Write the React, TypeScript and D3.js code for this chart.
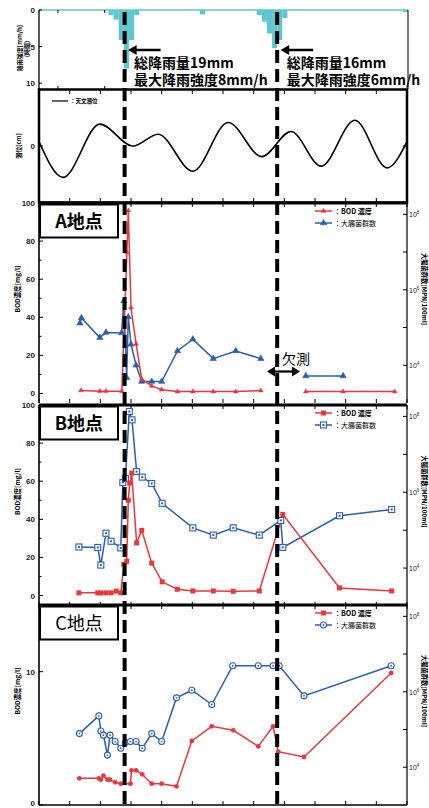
import React from 'react';
import * as d3 from 'd3';

// ---------- data ----------
const xTicks = [0, 6, 12, 18, 24, 30, 36, 42, 48, 54, 60, 66, 72];
const rainTickHours = [3.7, 12.85];

const rainHour = [13.6, 14.6, 15.6, 16.6, 17.6, 18.6, 31.5, 42.6, 43.6, 44.6, 45.6, 46.6, 47.6, 71.2];
const rainMm = [0.7, 1.3, 4.1, 8.0, 4.1, 0.7, 0.6, 0.7, 1.6, 3.2, 5.2, 4.1, 1.1, 0.3];
const rainTicks = [0, 5, 10];

const tideHour = [0, 4.7, 11.9, 18.4, 23.3, 30.1, 37.0, 43.6, 49.3, 55.2, 61.8, 68.1, 72];
const tideCm = [8, -56, 39, 0, 21, -45, 42, -19, 26, -36, 46, -39, 8];

const eventHours = [16.75, 46.6];
const eventTotals = ['総降雨量19mm', '総降雨量16mm'];
const eventMax = ['最大降雨強度8mm/h', '最大降雨強度6mm/h'];

const aBodHour = [8.2, 11.9, 13.1, 16.2, 17.2, 17.47, 18.0, 19.0, 20.1, 22.05, 24.0, 27.1, 30.1, 34.1, 38.5, 43.4, 48, 52.2, 59.5, 69.6];
const aBod = [1.6, 1.2, 1.2, 1.2, 74, 96, 45, 26, 7.5, 4, 2, 1, 1, 1, 1, 1.5, null, 1, 1, 1];
const aColiHour = [8.0, 8.3, 11.9, 13.1, 16.15, 16.6, 17.15, 17.47, 18.0, 19.0, 20.1, 22.05, 24.0, 27.1, 30.1, 34.1, 38.5, 43.4, 48, 52.2, 59.5];
const aColi = [1.3e5, 1.8e5, 5.4e4, 7.4e4, 7.2e4, 5.1e5, 4.7e3, 1.9e5, 3.6e4, 1.0e4, 3.7e3, 3.7e3, 3.7e3, 2.4e4, 4.9e4, 1.5e4, 2.4e4, 1.5e4, null, 5.2e3, 5.2e3];

const bBodHour = [7.8, 11.5, 12.1, 13.1, 14.1, 15.1, 16.0, 16.6, 17.16, 17.47, 17.75, 18.14, 19.1, 20.1, 22.05, 24.1, 27.06, 30.1, 34.1, 38.0, 43.1, 47.7, 58.8, 69.0];
const bBod = [1.4, 1.4, 1.4, 1.4, 1.4, 2.3, 1.4, 16.4, 18, 50, 59, 64.3, 27.6, 34.2, 17, 7.2, 3.3, 2.4, 2.4, 2.2, 2.4, 42.6, 4, 2.4];
const bColiHour = [7.8, 11.5, 12.1, 13.1, 14.1, 16.0, 16.4, 16.9, 17.67, 18.2, 19.1, 20.2, 22.05, 24.1, 30.1, 34.1, 38.0, 43.1, 47.3, 47.7, 58.8, 69.0];
const bColi = [3.6e4, 3.5e4, 1.2e4, 8.3e4, 5.1e4, 3.4e4, 1.8e6, 2.3e6, 1.35e8, 8.1e7, 3.5e6, 2.5e6, 1.7e6, 5.1e5, 1.15e5, 7.4e4, 1.15e5, 7.4e4, 1.8e5, 3.5e4, 2.4e5, 3.5e5];

const cBodHour = [7.9, 11.7, 12.1, 12.6, 13.4, 13.9, 14.9, 16.0, 17.9, 18.1, 19.0, 20.2, 22.05, 24.0, 26.9, 29.9, 33.8, 38.0, 42.9, 45.8, 46.8, 51.85, 68.9];
const cBod = [2.0, 2.0, 1.9, 2.2, 1.9, 1.9, 1.7, 1.6, 1.6, 2.6, 2.6, 2.3, 1.6, 1.6, 1.4, 4.8, 5.9, 5.6, 4.4, 5.9, 4.0, 3.6, 9.9];
const cColiHour = [7.9, 11.7, 12.1, 12.6, 13.4, 13.9, 14.9, 16.0, 16.9, 17.9, 19.0, 20.2, 22.05, 24.0, 26.9, 29.9, 33.8, 37.9, 42.9, 45.8, 47.0, 51.85, 68.9];
const cColi = [7.8e4, 2.3e5, 9.1e4, 7.1e4, 2.1e4, 7.1e4, 4.8e4, 3.2e4, 4.5e4, 4.8e4, 4.8e4, 3.2e4, 7.8e4, 4.8e4, 6.9e5, 1.1e6, 4.6e5, 4.9e6, 4.9e6, 4.9e6, 4.9e6, 7.8e5, 4.9e6];

const bodTicksAB = [0, 20, 40, 60, 80, 100];
const bodMinorAB = [10, 30, 50, 70, 90];
const bodTicksC = [0, 10];
const coliDecades = [1e4, 1e5, 1e6, 1e7, 1e8];
const coliLabelExp = [4, 6, 8];

const RED = '#e8383d';
const BLUE = '#2d5ea9';
const CYAN = '#5fc7cf';
const CJK = '"Noto Sans CJK JP", "Noto Sans", sans-serif';
const NUM = '"Liberation Sans", Arial, sans-serif';

const X0 = 39, X1 = 407;
const x = d3.scaleLinear().domain([0, 72]).range([X0, X1]);

type MarkerKind = 'tri' | 'sq' | 'circ';

function Marker({ kind, color, cx, cy, main }: { kind: MarkerKind; color: string; cx: number; cy: number; main: boolean }) {
  if (kind === 'tri') {
    const p = d3.symbol(d3.symbolTriangle, main ? 9 : 17)();
    return <path d={p!} transform={`translate(${cx},${cy})`} fill={color} stroke={color} strokeWidth={0.6} />;
  }
  if (kind === 'sq') {
    if (main) return <rect x={cx - 2.5} y={cy - 2.5} width={5} height={5} fill={color} />;
    return (
      <g>
        <rect x={cx - 3} y={cy - 3} width={6} height={6} fill="#fff" stroke={color} strokeWidth={1.1} />
        <rect x={cx - 1} y={cy - 1} width={2} height={2} fill={color} />
      </g>
    );
  }
  if (main) return <circle cx={cx} cy={cy} r={2.4} fill={color} />;
  return (
    <g>
      <circle cx={cx} cy={cy} r={3} fill="#fff" stroke={color} strokeWidth={1.1} />
      <circle cx={cx} cy={cy} r={0.9} fill={color} />
    </g>
  );
}

type PanelProps = {
  top: number; bottom: number; bodMin: number; bodMax: number;
  bodTicks: number[]; bodMinor: number[]; label: string; labelBold: boolean;
  bodH: number[]; bodV: (number | null)[]; coliH: number[]; coliV: (number | null)[];
  kind: MarkerKind; legendRedKind: MarkerKind; children?: React.ReactNode;
};

function Panel(p: PanelProps) {
  const yL = d3.scaleLinear().domain([p.bodMin, p.bodMax]).range([p.bottom, p.top]);
  const yR = d3.scaleLog().domain([1e3, Math.pow(10, 8.3)]).range([p.bottom, p.top]);
  const bodPts = p.bodH.map((h, i) => [h, p.bodV[i]] as [number, number | null]);
  const coliPts = p.coliH.map((h, i) => [h, p.coliV[i]] as [number, number | null]);
  const lineL = d3.line<[number, number | null]>().defined(d => d[1] != null).x(d => x(d[0])).y(d => yL(d[1] as number));
  const lineR = d3.line<[number, number | null]>().defined(d => d[1] != null).x(d => x(d[0])).y(d => yR(d[1] as number));
  const mid = (p.top + p.bottom) / 2 - 14;
  return (
    <g>
      {/* frame */}
      <line x1={X0} x2={X0} y1={p.top} y2={p.bottom} stroke="#000" strokeWidth={1.6} />
      <line x1={X1} x2={X1} y1={p.top} y2={p.bottom} stroke="#000" strokeWidth={1.2} />
      <line x1={X0} x2={X1} y1={p.top} y2={p.top} stroke="#000" strokeWidth={3} />
      {/* x ticks */}
      {xTicks.map(t => (
        <g key={t}>
          <line x1={x(t)} x2={x(t)} y1={p.top} y2={p.top + 4} stroke="#000" strokeWidth={1} />
          <line x1={x(t)} x2={x(t)} y1={p.bottom} y2={p.bottom - 4} stroke="#000" strokeWidth={1} />
        </g>
      ))}
      {/* left axis */}
      {p.bodTicks.map(t => (
        <g key={t}>
          <line x1={X0} x2={X0 + 4} y1={yL(t)} y2={yL(t)} stroke="#000" strokeWidth={1} />
          <text x={X0 - 4} y={Math.min(yL(t) + 3, 806)} textAnchor="end" fontSize={8} fontWeight="bold" fontFamily={NUM} fill="#222">{t}</text>
        </g>
      ))}
      {p.bodMinor.map(t => (
        <line key={t} x1={X0} x2={X0 + 2.5} y1={yL(t)} y2={yL(t)} stroke="#000" strokeWidth={1} />
      ))}
      <text transform={`translate(20,${mid}) rotate(-90)`} textAnchor="middle" fontSize={6.5} fontWeight="bold" fontFamily={CJK}>BOD濃度[mg/l]</text>
      {/* right axis */}
      {coliDecades.map(t => (
        <line key={t} x1={X1} x2={X1 - 4} y1={yR(t)} y2={yR(t)} stroke="#000" strokeWidth={1} />
      ))}
      {coliLabelExp.map(e => (
        <text key={e} x={X1 + 2} y={yR(Math.pow(10, e)) + 3} fontSize={7} fontFamily={NUM} fill="#222">10<tspan dy={-3} fontSize={4.5}>{e}</tspan></text>
      ))}
      <text transform={`translate(422,${mid}) rotate(90)`} textAnchor="middle" fontSize={6.3} fontWeight="bold" fontFamily={CJK}>大腸菌群数[MPN/100ml]</text>
      {/* series */}
      <path d={lineR(coliPts)!} fill="none" stroke={BLUE} strokeWidth={1.5} />
      <path d={lineL(bodPts)!} fill="none" stroke={RED} strokeWidth={1.5} />
      {coliPts.filter(d => d[1] != null).map((d, i) => (
        <Marker key={'c' + i} kind={p.kind} color={BLUE} cx={x(d[0])} cy={yR(d[1] as number)} main={false} />
      ))}
      {bodPts.filter(d => d[1] != null).map((d, i) => (
        <Marker key={'b' + i} kind={p.kind} color={RED} cx={x(d[0])} cy={yL(d[1] as number)} main={true} />
      ))}
      {/* label box */}
      <rect x={X0 + 1} y={p.top + 1.5} width={78} height={33} fill="#fff" stroke="#000" strokeWidth={2} />
      <text x={X0 + 40} y={p.top + 25} textAnchor="middle" fontSize={18} fontWeight={p.labelBold ? 'bold' : 'normal'} fontFamily={CJK}>{p.label}</text>
      {/* legend */}
      <line x1={315} x2={332} y1={p.top + 8} y2={p.top + 8} stroke={RED} strokeWidth={1.5} />
      <Marker kind={p.legendRedKind} color={RED} cx={323.5} cy={p.top + 8} main={true} />
      <text x={334} y={p.top + 10.5} fontSize={7} fontWeight="bold" fontFamily={CJK}>：BOD 濃度</text>
      <line x1={315} x2={332} y1={p.top + 20} y2={p.top + 20} stroke={BLUE} strokeWidth={1.5} />
      <Marker kind={p.kind} color={BLUE} cx={323.5} cy={p.top + 20} main={false} />
      <text x={334} y={p.top + 22.5} fontSize={7} fontFamily={CJK}>：大腸菌群数</text>
      {p.children}
    </g>
  );
}

export default function App() {
  const rainY = d3.scaleLinear().domain([0, 10.8]).range([10, 89]);
  const tideY = d3.scaleLinear().domain([-100, 100]).range([202, 90]);
  const tidePts = tideHour.map((h, i) => [h, tideCm[i]] as [number, number]);
  const tideLine = d3.line<[number, number]>().x(d => x(d[0])).y(d => tideY(d[1])).curve(d3.curveMonotoneX);

  return (
    <svg width={429} height={808} style={{ position: 'absolute', left: 0, top: 0, background: '#fff' }}>
      <rect width={429} height={808} fill="#fff" />
      {/* ---------- rainfall ---------- */}
      <g>
        <line x1={X0} x2={X1 + 1} y1={10} y2={10} stroke={CYAN} strokeWidth={1.5} />
        {rainHour.map((h, i) => (
          <rect key={i} x={x(h)} y={rainY(0)} width={Math.min(x(h + 1), X1 + 1) - x(h)} height={rainY(rainMm[i]) - rainY(0)} fill={CYAN} />
        ))}
        <line x1={X0} x2={X0} y1={10} y2={89} stroke="#000" strokeWidth={1.3} />
        <line x1={X1 + 1} x2={X1 + 1} y1={10} y2={89} stroke="#000" strokeWidth={1} />
        {rainTicks.map(t => (
          <g key={t}>
            <line x1={X0} x2={X0 + 3} y1={rainY(t)} y2={rainY(t)} stroke="#000" strokeWidth={1} />
            <text x={X0 - 4} y={rainY(t) + 3} textAnchor="end" fontSize={8} fontWeight="bold" fontFamily={NUM} fill="#222">{t}</text>
          </g>
        ))}
        {rainTickHours.map(h => (
          <g key={h}>
            <line x1={x(h)} x2={x(h)} y1={10} y2={13} stroke="#000" strokeWidth={1} />
            <line x1={x(h)} x2={x(h)} y1={89} y2={86} stroke="#000" strokeWidth={1} />
          </g>
        ))}
        <text transform="translate(22,48) rotate(-90)" textAnchor="middle" fontSize={6} fontWeight="bold" fontFamily={CJK}>降雨強度[mm/h]</text>
        <text transform="translate(29,49) rotate(-90)" textAnchor="middle" fontSize={6} fontWeight="bold" fontFamily={CJK}>(時間)</text>
      </g>

      {/* ---------- tide ---------- */}
      <g>
        <rect x={X0} y={89.5} width={X1 - X0} height={113} fill="none" stroke="#000" strokeWidth={2.5} />
        {xTicks.map(t => (
          <g key={t}>
            <line x1={x(t)} x2={x(t)} y1={90} y2={94} stroke="#000" strokeWidth={1} />
            <line x1={x(t)} x2={x(t)} y1={202} y2={198} stroke="#000" strokeWidth={1} />
          </g>
        ))}
        <line x1={X0} x2={X0 + 4} y1={tideY(0)} y2={tideY(0)} stroke="#000" strokeWidth={1} />
        <line x1={X1} x2={X1 - 4} y1={tideY(0)} y2={tideY(0)} stroke="#000" strokeWidth={1} />
        <text x={X0 - 4} y={tideY(0) + 3} textAnchor="end" fontSize={8} fontWeight="bold" fontFamily={NUM} fill="#222">0</text>
        <text transform={`translate(21,${tideY(0)}) rotate(-90)`} textAnchor="middle" fontSize={6} fontWeight="bold" fontFamily={CJK}>潮位[cm]</text>
        <path d={tideLine(tidePts)!} fill="none" stroke="#000" strokeWidth={1.6} />
        <line x1={52} x2={68} y1={101} y2={101} stroke="#000" strokeWidth={1.2} />
        <text x={70} y={103} fontSize={5.5} fontWeight="bold" fontFamily={CJK}>：天文潮位</text>
      </g>

      {/* ---------- panels ---------- */}
      <Panel top={203} bottom={403} bodMin={-5} bodMax={100} bodTicks={bodTicksAB} bodMinor={bodMinorAB}
        label="A地点" labelBold={true} bodH={aBodHour} bodV={aBod} coliH={aColiHour} coliV={aColi} kind="tri" legendRedKind="tri">
        <text x={282} y={364} fontSize={14} fontFamily={CJK}>欠測</text>
        <line x1={273} x2={294} y1={371.5} y2={371.5} stroke="#000" strokeWidth={2.2} />
        <path d="M267,371.5 L275,366.5 L275,376.5 Z" fill="#000" />
        <path d="M300,371.5 L292,366.5 L292,376.5 Z" fill="#000" />
      </Panel>
      <Panel top={405} bottom={606} bodMin={-5.5} bodMax={100} bodTicks={bodTicksAB} bodMinor={bodMinorAB}
        label="B地点" labelBold={true} bodH={bBodHour} bodV={bBod} coliH={bColiHour} coliV={bColi} kind="sq" legendRedKind="sq" />
      <Panel top={605} bottom={805} bodMin={0} bodMax={15} bodTicks={bodTicksC} bodMinor={[]}
        label="C地点" labelBold={false} bodH={cBodHour} bodV={cBod} coliH={cColiHour} coliV={cColi} kind="circ" legendRedKind="sq" />
      <line x1={X0} x2={X1} y1={805} y2={805} stroke="#000" strokeWidth={1.5} />

      {/* ---------- event lines & annotations ---------- */}
      {eventHours.map((h, i) => {
        const ex = x(h);
        return (
          <g key={h}>
            <line x1={ex} x2={ex} y1={12} y2={808} stroke="#000" strokeWidth={4} strokeDasharray="13 6" />
            <line x1={ex + 9} x2={ex + 36} y1={50} y2={50} stroke="#000" strokeWidth={2.5} />
            <path d={`M${ex + 3.5},50 L${ex + 12},45 L${ex + 12},55 Z`} fill="#000" />
            <text x={ex + 9.5} y={68} fontSize={14} fontWeight="bold" fontFamily={CJK}>{eventTotals[i]}</text>
            <text x={ex + 9.5} y={85} fontSize={14} fontWeight="bold" fontFamily={CJK}>{eventMax[i]}</text>
          </g>
        );
      })}
    </svg>
  );
}
